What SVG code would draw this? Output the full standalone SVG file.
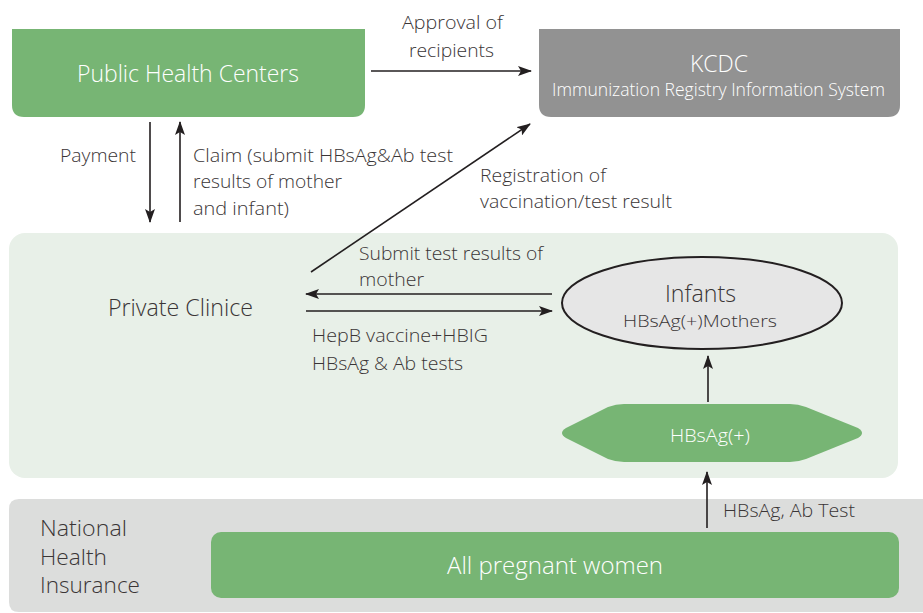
<svg xmlns="http://www.w3.org/2000/svg" width="923" height="613" viewBox="0 0 923 613">
<style>
text{font-family:"Open Sans","Noto Sans","Liberation Sans",sans-serif;fill:#3a3536;font-weight:300;}
.w{fill:#ffffff;}
.lbl{font-size:19px;}
.ln{stroke:#231f20;stroke-width:1.6;fill:none;}
</style>
<defs>
<marker id="ah" viewBox="0 0 14 10" refX="13" refY="5" markerWidth="14" markerHeight="10" markerUnits="userSpaceOnUse" orient="auto">
<path d="M0,0 L14,5 L0,10 L3,5 Z" fill="#231f20"/>
</marker>
</defs>
<rect width="923" height="613" fill="#ffffff"/>
<g id="private-clinic-panel">
<rect x="9" y="233" width="889" height="245" rx="16" fill="#e8f0e8"/>
<text x="108" y="316" font-size="24" textLength="145" lengthAdjust="spacingAndGlyphs">Private Clinice</text>
</g>
<g id="nhi-panel">
<path d="M19,499 H923 V612 H19 Q9,612 9,602 V509 Q9,499 19,499 Z" fill="#dcdddc"/>
<text x="40" y="536" font-size="22" textLength="87" lengthAdjust="spacingAndGlyphs">National</text>
<text x="40" y="565" font-size="22" textLength="67" lengthAdjust="spacingAndGlyphs">Health</text>
<text x="40" y="593" font-size="22" textLength="100" lengthAdjust="spacingAndGlyphs">Insurance</text>
</g>
<g id="public-health-centers">
<path d="M12,29 H365 V105 Q365,117 353,117 H24 Q12,117 12,105 Z" fill="#77b574"/>
<text class="w" x="77" y="82" font-size="24" textLength="222" lengthAdjust="spacingAndGlyphs">Public Health Centers</text>
</g>
<g id="kcdc">
<path d="M539,29 H900 V105 Q900,117 888,117 H551 Q539,117 539,105 Z" fill="#929292"/>
<text class="w" x="690" y="72" font-size="23" textLength="58" lengthAdjust="spacingAndGlyphs">KCDC</text>
<text class="w" x="552" y="96" font-size="18" textLength="333" lengthAdjust="spacingAndGlyphs">Immunization Registry Information System</text>
</g>
<g id="infants">
<ellipse cx="702" cy="303" rx="140" ry="46" fill="#e6e6e6" stroke="#231f20" stroke-width="2"/>
<text x="665" y="302" font-size="23" textLength="71" lengthAdjust="spacingAndGlyphs">Infants</text>
<text x="623" y="327" font-size="17" textLength="154" lengthAdjust="spacingAndGlyphs">HBsAg(+)Mothers</text>
</g>
<g id="hbsag-positive">
<path d="M624,404 H790 Q798,404 806,407 L858,428 Q866,433 858,438 L806,459 Q798,462 790,462 H624 Q616,462 608,459 L566,438 Q558,433 566,428 L608,407 Q616,404 624,404 Z" fill="#77b574"/>
<text class="w" x="670" y="442" font-size="18" textLength="80" lengthAdjust="spacingAndGlyphs">HBsAg(+)</text>
</g>
<g id="all-pregnant-women">
<rect x="211" y="532" width="688" height="66" rx="10" fill="#77b574"/>
<text class="w" x="447" y="574" font-size="24" textLength="216" lengthAdjust="spacingAndGlyphs">All pregnant women</text>
</g>
<g id="connectors">
<line class="ln" x1="371" y1="71" x2="531" y2="71" marker-end="url(#ah)"/>
<line class="ln" x1="150" y1="122" x2="150" y2="222" marker-end="url(#ah)"/>
<line class="ln" x1="180" y1="222" x2="180" y2="122" marker-end="url(#ah)"/>
<line class="ln" x1="311" y1="272" x2="530" y2="124" marker-end="url(#ah)"/>
<line class="ln" x1="552" y1="294" x2="306" y2="294" marker-end="url(#ah)"/>
<line class="ln" x1="306" y1="311" x2="552" y2="311" marker-end="url(#ah)"/>
<line class="ln" x1="708" y1="402" x2="708" y2="356" marker-end="url(#ah)"/>
<line class="ln" x1="707" y1="528" x2="707" y2="472" marker-end="url(#ah)"/>
<text class="lbl" x="402" y="29" textLength="101" lengthAdjust="spacingAndGlyphs">Approval of</text>
<text class="lbl" x="409" y="57" textLength="85" lengthAdjust="spacingAndGlyphs">recipients</text>
<text class="lbl" x="60" y="162" textLength="76" lengthAdjust="spacingAndGlyphs">Payment</text>
<text class="lbl" x="193" y="162" textLength="260" lengthAdjust="spacingAndGlyphs">Claim (submit HBsAg&amp;Ab test</text>
<text class="lbl" x="193" y="188" textLength="149" lengthAdjust="spacingAndGlyphs">results of mother</text>
<text class="lbl" x="193" y="215" textLength="96" lengthAdjust="spacingAndGlyphs">and infant)</text>
<text class="lbl" x="480" y="182" textLength="126" lengthAdjust="spacingAndGlyphs">Registration of</text>
<text class="lbl" x="480" y="208" textLength="192" lengthAdjust="spacingAndGlyphs">vaccination/test result</text>
<text class="lbl" x="359" y="260" textLength="184" lengthAdjust="spacingAndGlyphs">Submit test results of</text>
<text class="lbl" x="359" y="286" textLength="65" lengthAdjust="spacingAndGlyphs">mother</text>
<text class="lbl" x="312" y="342" textLength="176" lengthAdjust="spacingAndGlyphs">HepB vaccine+HBIG</text>
<text class="lbl" x="312" y="370" textLength="151" lengthAdjust="spacingAndGlyphs">HBsAg &amp; Ab tests</text>
<text class="lbl" x="723" y="517" textLength="132" lengthAdjust="spacingAndGlyphs">HBsAg, Ab Test</text>
</g>
</svg>
